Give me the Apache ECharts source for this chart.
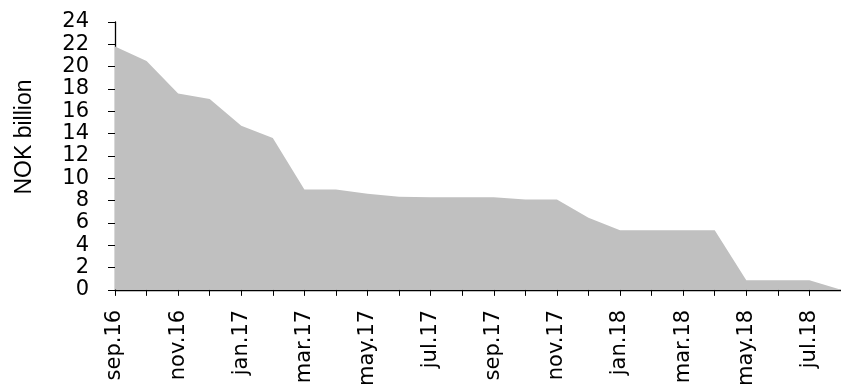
<!DOCTYPE html>
<html>
<head>
<meta charset="utf-8">
<script src="https://cdn.jsdelivr.net/npm/echarts@6/dist/echarts.min.js"></script>
<style>html,body{margin:0;padding:0;background:#fff}#c{width:841px;height:389px}</style>
</head>
<body>
<div id="c"></div>
<script>
const categories = ['sep.16','oct.16','nov.16','dec.16','jan.17','feb.17','mar.17','apr.17','may.17','jun.17','jul.17','aug.17','sep.17','oct.17','nov.17','dec.17','jan.18','feb.18','mar.18','apr.18','may.18','jun.18','jul.18','aug.18'];
const values = [21.8,20.5,17.6,17.1,14.7,13.6,9.0,9.0,8.6,8.35,8.3,8.3,8.3,8.1,8.1,6.45,5.35,5.35,5.35,5.35,0.85,0.85,0.85,0.0];
const yAxisTitle = 'NOK billion';
const yMin = 0, yMax = 24, yStep = 2;

const chart = echarts.init(document.getElementById('c'));
chart.setOption({
  animation: false,
  grid: {left: 115, right: -4, top: 22, bottom: 96, containLabel: false},
  xAxis: {
    type: 'category', data: categories, boundaryGap: false,
    axisLine: {lineStyle: {color: '#000', width: 1.3}},
    axisTick: {show: true, interval: 0, length: 6, lineStyle: {color: '#000'}},
    axisLabel: {interval: 1, rotate: 90, margin: 20, color: '#000', fontFamily: 'DejaVu Sans', fontSize: 21},
    splitLine: {show: false}
  },
  yAxis: {
    type: 'value', min: yMin, max: yMax, interval: yStep,
    axisLine: {show: true, lineStyle: {color: '#000', width: 1.3}},
    axisTick: {show: true, length: 7, lineStyle: {color: '#000'}},
    axisLabel: {margin: 26, color: '#000', fontFamily: 'DejaVu Sans', fontSize: 21},
    splitLine: {show: false}
  },
  graphic: [{
    type: 'text', x: 24.5, y: 137, rotation: Math.PI / 2,
    style: {text: yAxisTitle, fontFamily: 'Liberation Sans', fontSize: 23, fill: '#000', align: 'center', verticalAlign: 'middle'}
  }],
  series: [{
    type: 'line', data: values, symbol: 'none',
    lineStyle: {width: 0},
    areaStyle: {color: '#c0c0c0', opacity: 1}
  }]
});
</script>
</body>
</html>
